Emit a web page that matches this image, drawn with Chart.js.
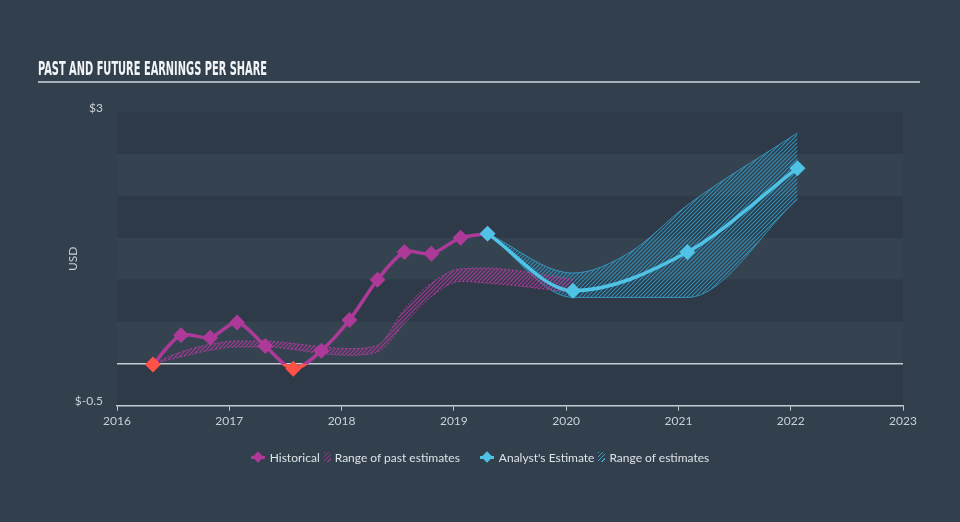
<!DOCTYPE html>
<html>
<head>
<meta charset="utf-8">
<script src="https://cdn.jsdelivr.net/npm/chart.js@4.4.0/dist/chart.umd.min.js"></script>
<style>
  html, body { margin: 0; padding: 0; background: #323f4d; }
  #wrap { position: relative; width: 960px; height: 522px; overflow: hidden; }
  #chart { position: absolute; left: 0; top: 0; }
  #title {
    position: absolute; left: 38px; top: 58px; width: 882px;
    font-family: 'Liberation Sans Narrow', 'DejaVu Sans Condensed', 'DejaVu Sans', sans-serif;
    font-weight: bold; font-size: 19px; line-height: 20px; color: #f2f4f6;
    padding-bottom: 3px; border-bottom: 2px solid #aab3bc; white-space: nowrap;
  }
  #titleText { display: inline-block; transform-origin: 0 50%; }
  #legend {
    position: absolute; left: 0; top: 449px; width: 960px; height: 16px;
    display: flex; justify-content: center; align-items: center;
    font-family: Lato, 'Open Sans', sans-serif; font-size: 12px; color: #dde2e7;
  }
  .ico { position: relative; width: 14px; height: 12px; margin-right: 5px; }
  .ico .ln { position: absolute; left: 0; top: 5px; width: 14px; height: 3px; }
  .ico .dm { position: absolute; left: 3px; top: 2px; width: 8px; height: 8px; transform: rotate(45deg); }
  .hatch { width: 7px; height: 10px; margin: 0 4px 0 4px; }
  .gap { width: 20px; }
</style>
</head>
<body>
<div id="wrap">
  <canvas id="chart" width="960" height="522"></canvas>
  <div id="title"><span id="titleText">PAST AND FUTURE EARNINGS PER SHARE</span></div>
  <div id="legend">
    <span class="ico"><i class="ln" style="background:#ad3a98"></i><i class="dm" style="background:#ad3a98"></i></span>
    <span>Historical</span>
    <span class="hatch" style="background:repeating-linear-gradient(135deg, #9a3a8c 0 1px, transparent 1px 3px)"></span>
    <span>Range of past estimates</span>
    <span class="gap"></span>
    <span class="ico"><i class="ln" style="background:#4fc3e6"></i><i class="dm" style="background:#4fc3e6"></i></span>
    <span>Analyst's Estimate</span>
    <span class="hatch" style="background:repeating-linear-gradient(135deg, #3f9ec0 0 1px, transparent 1px 3px)"></span>
    <span>Range of estimates</span>
  </div>
</div>
<script>
// squeeze the title to the width of the condensed original
const titleEl = document.getElementById('titleText');
titleEl.style.transform = 'scaleX(' + (229 / titleEl.getBoundingClientRect().width) + ')';

// Historical EPS (decimal year, USD)
const histYears = [2016.32, 2016.57, 2016.83, 2017.07, 2017.32, 2017.57, 2017.82, 2018.07, 2018.32, 2018.56, 2018.8, 2019.06, 2019.3];
const histEps = [-0.01, 0.34, 0.31, 0.49, 0.21, -0.06, 0.155, 0.52, 1.0, 1.33, 1.31, 1.5, 1.55];

// Range of past estimates
const pastRangeYears = [2016.32, 2016.57, 2016.83, 2017.07, 2017.32, 2017.57, 2017.82, 2018.07, 2018.32, 2018.56, 2018.8, 2019.06, 2019.3, 2019.55, 2019.8, 2020.06];
const pastHigh = [0, 0.14, 0.23, 0.27, 0.27, 0.24, 0.2, 0.18, 0.22, 0.65, 0.96, 1.13, 1.14, 1.11, 1.06, 1.0];
const pastLow = [0, 0.08, 0.16, 0.2, 0.2, 0.17, 0.12, 0.1, 0.14, 0.48, 0.8, 0.98, 0.96, 0.93, 0.89, 0.85];

// Analyst estimate
const estYears = [2019.3, 2020.06, 2021.08, 2022.06];
const estEps = [1.55, 0.87, 1.33, 2.33];

// Range of estimates
const estRangeYears = [2019.3, 2020.06, 2020.56, 2021.08, 2022.06];
const estHigh = [1.55, 1.08, 1.32, 1.89, 2.75];
const estLow = [1.55, 0.79, 0.79, 0.79, 1.96];

const yTickValues = [-0.5, 3];

const MAG = '#ad3a98';
const RED = '#ff5146';
const CYAN = '#4fc3e6';

const pts = (xs, ys) => xs.map((x, i) => ({ x: x, y: ys[i] }));

function hatch(color) {
  const c = document.createElement('canvas');
  c.width = 4; c.height = 4;
  const g = c.getContext('2d');
  g.strokeStyle = color;
  g.lineWidth = 1.2;
  g.beginPath();
  g.moveTo(0, 4); g.lineTo(4, 0);
  g.moveTo(-1, 1); g.lineTo(1, -1);
  g.moveTo(3, 5); g.lineTo(5, 3);
  g.stroke();
  return g.createPattern(c, 'repeat');
}

// alternating bands + zero line
const bandsPlugin = {
  id: 'bands',
  beforeDraw(chart) {
    const { ctx, chartArea: a, scales: { y } } = chart;
    ctx.save();
    let dark = true;
    for (let v = 3; v > -0.5; v -= 0.5) {
      const top = y.getPixelForValue(v);
      const bot = y.getPixelForValue(v - 0.5);
      ctx.fillStyle = dark ? '#2e3a48' : '#354351';
      ctx.fillRect(a.left, top, a.right - a.left, bot - top);
      dark = !dark;
    }
    const y0 = y.getPixelForValue(0);
    ctx.strokeStyle = '#c3cbd3';
    ctx.lineWidth = 1.5;
    ctx.beginPath();
    ctx.moveTo(a.left, y0);
    ctx.lineTo(a.right, y0);
    ctx.stroke();
    ctx.restore();
  }
};

function histColor(context) {
  const chart = context.chart;
  const a = chart.chartArea;
  if (!a) return MAG;
  const y0 = chart.scales.y.getPixelForValue(0);
  const g = chart.ctx.createLinearGradient(0, a.top, 0, a.bottom);
  const s = Math.min(1, Math.max(0, (y0 - a.top) / (a.bottom - a.top)));
  g.addColorStop(0, MAG);
  g.addColorStop(s, MAG);
  g.addColorStop(s, RED);
  g.addColorStop(1, RED);
  return g;
}

new Chart(document.getElementById('chart'), {
  type: 'line',
  data: {
    datasets: [
      {
        label: 'Range of past estimates',
        data: pts(pastRangeYears, pastHigh),
        borderColor: 'rgba(195,60,170,0.85)',
        borderWidth: 1,
        borderDash: [2, 2],
        backgroundColor: hatch('rgba(175,55,155,0.9)'),
        fill: '+1',
        pointRadius: 0,
        cubicInterpolationMode: 'monotone',
        order: 2
      },
      {
        label: 'past low',
        data: pts(pastRangeYears, pastLow),
        borderColor: 'rgba(195,60,170,0.85)',
        borderWidth: 1,
        borderDash: [2, 2],
        fill: false,
        pointRadius: 0,
        cubicInterpolationMode: 'monotone',
        order: 2
      },
      {
        label: 'Range of estimates',
        data: pts(estRangeYears, estHigh),
        borderColor: 'rgba(55,155,195,0.9)',
        borderWidth: 1,
        backgroundColor: hatch('rgba(50,145,185,0.95)'),
        fill: '+1',
        pointRadius: 0,
        cubicInterpolationMode: 'monotone',
        order: 2
      },
      {
        label: 'est low',
        data: pts(estRangeYears, estLow),
        borderColor: 'rgba(55,155,195,0.9)',
        borderWidth: 1,
        fill: false,
        pointRadius: 0,
        cubicInterpolationMode: 'monotone',
        order: 2
      },
      {
        label: 'Historical',
        data: pts(histYears, histEps),
        borderColor: histColor,
        borderWidth: 3.5,
        tension: 0.3,
        fill: false,
        pointStyle: 'rectRot',
        pointRadius: 5.5,
        pointBackgroundColor: c => (c.raw && c.raw.y < 0 ? RED : MAG),
        pointBorderColor: c => (c.raw && c.raw.y < 0 ? RED : MAG),
        order: 1
      },
      {
        label: "Analyst's Estimate",
        data: pts(estYears, estEps),
        borderColor: CYAN,
        borderWidth: 3.5,
        fill: false,
        cubicInterpolationMode: 'monotone',
        pointStyle: 'rectRot',
        pointRadius: 5.5,
        pointBackgroundColor: CYAN,
        pointBorderColor: CYAN,
        order: 0
      }
    ]
  },
  options: {
    responsive: false,
    animation: false,
    events: [],
    layout: { padding: { left: 66, right: 57, top: 112, bottom: 91 } },
    plugins: {
      legend: { display: false },
      tooltip: { enabled: false }
    },
    scales: {
      x: {
        type: 'linear',
        min: 2016,
        max: 2023,
        grid: { drawOnChartArea: false, drawTicks: true, tickLength: 5, color: '#c3cbd3' },
        border: { display: true, color: '#c3cbd3', width: 1.5 },
        ticks: {
          stepSize: 1,
          padding: 3,
          color: '#c8d0d8',
          font: { family: 'Lato', size: 12 },
          callback: v => String(v)
        }
      },
      y: {
        min: -0.5,
        max: 3,
        afterBuildTicks: axis => { axis.ticks = yTickValues.map(v => ({ value: v })); },
        afterFit: axis => { axis.width = 51; },
        grid: { display: false, drawTicks: false },
        border: { display: false },
        title: {
          display: true,
          text: 'USD',
          color: '#c8d0d8',
          font: { family: 'Lato', size: 12 },
          padding: { top: 0, bottom: 0 }
        },
        ticks: {
          padding: 14,
          labelOffset: -4,
          color: '#c8d0d8',
          font: { family: 'Lato', size: 12 },
          callback: v => '$' + v
        }
      }
    }
  },
  plugins: [bandsPlugin]
});
</script>
</body>
</html>
